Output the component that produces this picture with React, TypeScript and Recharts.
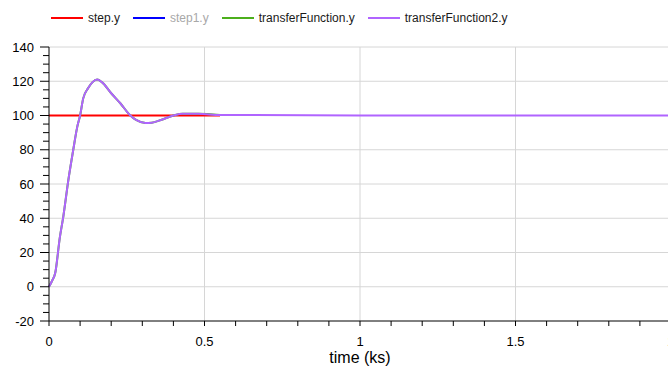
import React from 'react';
import { LineChart, Line, XAxis, YAxis, ReferenceLine, Legend } from 'recharts';

// simulation time (ks)
const time = [0, 0.01, 0.02, 0.035, 0.046, 0.062, 0.078, 0.091, 0.1, 0.11, 0.126, 0.14, 0.155, 0.17, 0.2, 0.23, 0.26, 0.28, 0.31, 0.33, 0.36, 0.4, 0.43, 0.48, 0.55, 1, 1.5, 2];

const stepY = [100, 100, 100, 100, 100, 100, 100, 100, 100, 100, 100, 100, 100, 100, 100, 100, 100, 100, 100, 100, 100, 100, 100, 100, 100, null, null, null];
const transferFunctionY = [0, 3.5, 8, 29, 41, 62, 80, 93.5, 100, 110, 116, 119.5, 121, 119.5, 113, 107, 100.3, 97.4, 95.6, 95.8, 97.4, 100, 101, 101, 100.3, null, null, null];
const transferFunction2Y = [0, 3.5, 8, 29, 41, 62, 80, 93.5, 100, 110, 116, 119.5, 121, 119.5, 113, 107, 100.3, 97.4, 95.6, 95.8, 97.4, 100, 101, 101, 100.3, 100, 100, 100];

const xTicks = [0, 0.1, 0.2, 0.3, 0.4, 0.5, 0.6, 0.7, 0.8, 0.9, 1, 1.1, 1.2, 1.3, 1.4, 1.5, 1.6, 1.7, 1.8, 1.9, 2];
const xLabels = [0, 0.5, 1, 1.5, 2];
const yTicks = [-20, -15, -10, -5, 0, 5, 10, 15, 20, 25, 30, 35, 40, 45, 50, 55, 60, 65, 70, 75, 80, 85, 90, 95, 100, 105, 110, 115, 120, 125, 130, 135, 140];
const yLabels = [-20, 0, 20, 40, 60, 80, 100, 120, 140];

const legendItems = [
  { name: 'step.y', color: '#ff0000', hidden: false },
  { name: 'step1.y', color: '#0000ff', hidden: true },
  { name: 'transferFunction.y', color: '#4caf1c', hidden: false },
  { name: 'transferFunction2.y', color: '#b064ff', hidden: false },
];

const data = time.map((t, i) => ({
  t,
  step: stepY[i],
  tf: transferFunctionY[i],
  tf2: transferFunction2Y[i],
}));

const isIn = (list: number[], v: number) => list.some(l => Math.abs(l - v) < 1e-6);

const XTick = (props: any) => {
  const { x, y, payload } = props;
  if (!isIn(xLabels, payload.value)) return <g />;
  return (
    <text x={x} y={y + 20} textAnchor="middle" fontSize={13} fill="#000">
      {String(payload.value)}
    </text>
  );
};

const YTick = (props: any) => {
  const { x, y, payload } = props;
  const major = isIn(yLabels, payload.value);
  const len = major ? 9 : 6;
  return (
    <g>
      <line x1={x - len} x2={x} y1={y} y2={y} stroke="#000" />
      {major && (
        <text x={x - 15} y={y} dy="0.35em" textAnchor="end" fontSize={13} fill="#000">
          {String(payload.value)}
        </text>
      )}
    </g>
  );
};

const LegendBox = () => (
  <div style={{ height: 42, position: 'relative' }}>
    <div style={{ position: 'absolute', top: 9, left: 51, height: 18, display: 'flex', alignItems: 'center', fontSize: 12, whiteSpace: 'nowrap' }}>
      {legendItems.map(item => (
        <div key={item.name} style={{ display: 'flex', alignItems: 'center', marginRight: 13 }}>
          <span style={{ display: 'inline-block', width: 32, height: 2, background: item.color, marginRight: 5 }} />
          <span style={{ color: item.hidden ? '#a8a8a8' : '#1a1a1a' }}>{item.name}</span>
        </div>
      ))}
    </div>
  </div>
);

export default function App() {
  return (
    <div style={{ position: 'fixed', left: 0, top: 0, width: 668, height: 367, overflow: 'hidden', background: '#fff' }}>
      <LineChart
        width={690}
        height={367}
        data={data}
        margin={{ top: 5, right: 19, bottom: 0, left: 0 }}
        style={{ fontFamily: '"Liberation Sans", Arial, sans-serif' }}
      >
        <Legend verticalAlign="top" content={<LegendBox />} wrapperStyle={{ top: 0, left: 0, width: 690 }} />
        {yLabels.filter(v => v > -20).map(v => (
          <ReferenceLine key={'gy' + v} y={v} stroke="#d6d6d6" />
        ))}
        {xLabels.filter(v => v > 0).map(v => (
          <ReferenceLine key={'gx' + v} x={v} stroke="#d6d6d6" />
        ))}
        <XAxis
          dataKey="t"
          type="number"
          domain={[0, 2]}
          ticks={xTicks}
          interval={0}
          tickSize={5}
          tickMargin={0}
          stroke="#000"
          tick={<XTick />}
          height={46}
          label={{ value: 'time (ks)', position: 'insideBottom', offset: 4, fontSize: 16, fill: '#000' }}
        />
        <YAxis
          type="number"
          domain={[-20, 140]}
          ticks={yTicks}
          interval={0}
          width={49}
          tickSize={0}
          tickMargin={0}
          tickLine={false}
          stroke="#000"
          tick={<YTick />}
        />
        <Line dataKey="step" stroke="#ff0000" strokeWidth={2} dot={false} isAnimationActive={false} />
        <Line dataKey="tf" type="monotone" stroke="#4caf1c" strokeWidth={2} dot={false} isAnimationActive={false} />
        <Line dataKey="tf2" type="monotone" stroke="#b064ff" strokeWidth={2} dot={false} isAnimationActive={false} />
      </LineChart>
    </div>
  );
}
